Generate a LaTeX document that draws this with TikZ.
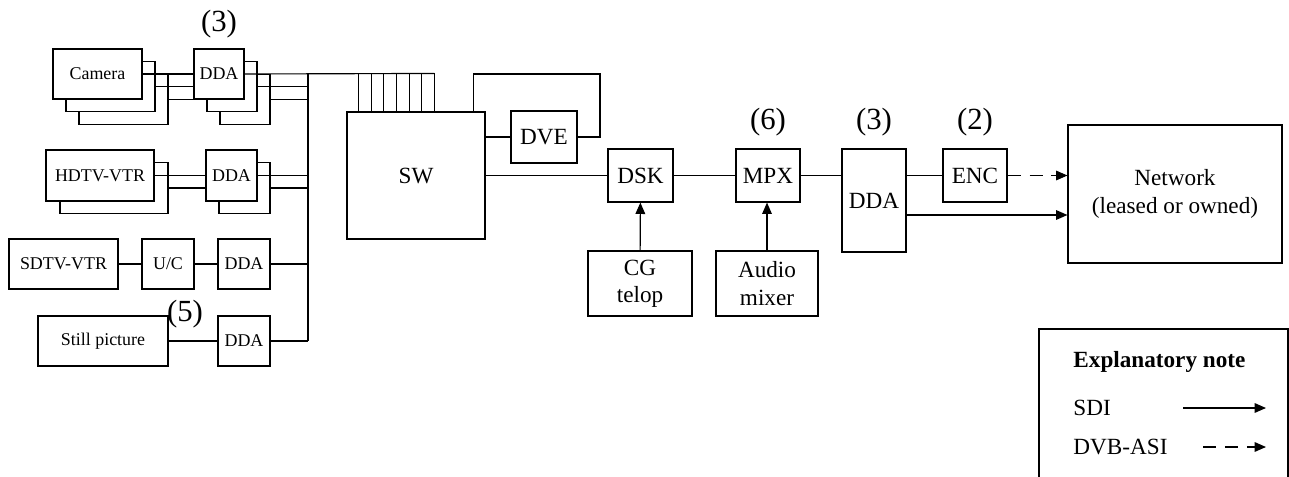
\documentclass[tikz,border=0pt]{standalone}
\usepackage{fontspec}
\setmainfont{Liberation Serif}
\usetikzlibrary{arrows.meta,positioning,calc}

\begin{document}
\begin{tikzpicture}[x=0.02cm, y=-0.02cm, line width=0.65pt, font=\fontsize{13.2}{15.5}\selectfont]
\tikzset{
  box/.style={rectangle, draw=black, fill=white, inner sep=0pt, align=center},
  sbox/.style={box, font=\fontsize{10.2}{12}\selectfont},
  num/.style={inner sep=0pt, font=\fontsize{17.5}{20}\selectfont},
  arr/.style={-{Triangle[length=6.5pt, width=5.5pt]}},
  asi/.style={arr, dash pattern=on 7.5pt off 5pt},
}
\useasboundingbox (0,0) rectangle (1289,477);
% sources
\node[sbox, minimum width=1.78cm, minimum height=1cm] (cam3) at (123.5,99.5) {};
\node[sbox, minimum width=1.78cm, minimum height=1cm] (cam2) at (110.5,86.5) {};
\node[sbox, minimum width=1.78cm, minimum height=1cm] (cam1) at (97.5,74) {Camera};
\node[sbox, minimum width=1cm, minimum height=1cm] (ddacam3) at (245,99.5) {};
\node[sbox, minimum width=1cm, minimum height=1cm] (ddacam2) at (232,86.5) {};
\node[sbox, minimum width=1cm, minimum height=1cm] (ddacam1) at (219,74) {DDA};
\node[sbox, minimum width=2.16cm, minimum height=1.02cm] (hdtv2) at (114,188) {};
\node[sbox, minimum width=2.16cm, minimum height=1.02cm] (hdtv1) at (100,175.5) {HDTV-VTR};
\node[sbox, minimum width=1.02cm, minimum height=1.02cm] (ddahd2) at (244.5,188) {};
\node[sbox, minimum width=1.02cm, minimum height=1.02cm] (ddahd1) at (231.5,175.5) {DDA};
\node[sbox, minimum width=2.18cm, minimum height=1cm] (sdtv) at (63.5,264) {SDTV-VTR};
\node[sbox, minimum width=1.04cm, minimum height=1cm] (uc) at (168,264) {U/C};
\node[sbox, minimum width=1.04cm, minimum height=1cm] (ddasd) at (244,264) {DDA};
\node[sbox, minimum width=2.6cm, minimum height=1cm] (still) at (103,341) {Still picture};
\node[sbox, minimum width=1.04cm, minimum height=1cm] (ddast) at (244,341) {DDA};
% switcher and output chain
\node[box, minimum width=2.76cm, minimum height=2.54cm] (sw) at (416,175.5) {SW};
\node[box, minimum width=1.32cm, minimum height=1.04cm] (dve) at (544,137) {DVE};
\node[box, minimum width=1.3cm, minimum height=1.06cm] (dsk) at (640.5,175.5) {DSK};
\node[box, minimum width=2.08cm, minimum height=1.3cm] (cg) at (640,283.5) {CG\\telop};
\node[box, minimum width=1.28cm, minimum height=1.06cm] (mpx) at (768,175.5) {MPX};
\node[box, minimum width=2.04cm, minimum height=1.3cm] (audio) at (767,283.5) {Audio\\mixer};
\node[box, minimum width=1.28cm, minimum height=2.06cm] (ddaout) at (874,200.5) {DDA};
\node[box, minimum width=1.28cm, minimum height=1.06cm] (enc) at (975,175.5) {ENC};
\node[box, minimum width=4.28cm, minimum height=2.76cm] (net) at (1175,194) {Network\\(leased or owned)};
% counts
\node[num, above=0.2cm of ddacam1] (ncam) {(3)};
\node[num] (nstill) at (185,314) {(5)};
\node[num, above=0.24cm of mpx] (nmpx) {(6)};
\node[num, above=0.24cm of ddaout] (ndda) {(3)};
\node[num, above=0.24cm of enc] (nenc) {(2)};
% bus
\coordinate (bus) at (308,74);
\coordinate (busend) at (308,341);
\coordinate (loop) at (600,74);
\draw (bus) -- (busend);
\foreach \i in {0,...,6}
  \draw ($(sw.north west)+(12+12.67*\i,0)$) -- ++(0,-38);
\draw (ddacam1.east) -- ($(sw.north west)+(88,-38)$);
\draw (ddacam2.east) -- (ddacam2.east -| bus);
\draw (ddacam3.east) -- (ddacam3.east -| bus);
\draw (cam1.east) -- (ddacam1.west);
\draw (cam2.east) -- (cam2.east -| ddacam1.west);
\draw (cam3.east) -- (cam3.east -| ddacam1.west);
\draw (hdtv1.east) -- (ddahd1.west);
\draw (hdtv2.east) -- (hdtv2.east -| ddahd1.west);
\draw (ddahd1.east) -- (ddahd1.east -| bus);
\draw (ddahd2.east) -- (ddahd2.east -| bus);
\draw (sdtv) -- (uc);
\draw (uc) -- (ddasd);
\draw (ddasd.east) -- (ddasd.east -| bus);
\draw (still) -- (ddast);
\draw (ddast.east) -- (busend);
% outputs
\draw (dve.west -| sw.east) -- (dve.west);
\draw (dve.east) -| (loop) -| ([xshift=-0.24cm]sw.north east);
\draw (dsk.west -| sw.east) -- (dsk.west);
\draw (dsk) -- (mpx);
\draw[arr] (cg) -- (dsk);
\draw[arr] (audio.north) -- (audio.north |- mpx.south);
\draw (mpx.east) -- (mpx.east -| ddaout.west);
\draw (enc.west -| ddaout.east) -- (enc.west);
\draw[asi] (enc.east) -- (enc.east -| net.west);
\draw[arr] ([yshift=-0.29cm]ddaout.east) -- ([yshift=-0.29cm]ddaout.east -| net.west);
% explanatory note
\draw (1039,477) |- (1288,329) -- (1288,477);
\node[anchor=west, font=\fontsize{13.2}{15.5}\selectfont\bfseries] (note) at (1067,362) {Explanatory note};
\node[anchor=west] (sdi) at (1067,408) {SDI};
\node[anchor=west] (dvb) at (1067,447) {DVB-ASI};
\coordinate (sdis) at (1183,408);
\coordinate (sdie) at (1266,408);
\coordinate (dvbs) at (1203,447);
\coordinate (dvbe) at (1266,447);
\draw[arr] (sdis) -- (sdie);
\draw[asi] (dvbs) -- (dvbe);
\end{tikzpicture}
\end{document}
